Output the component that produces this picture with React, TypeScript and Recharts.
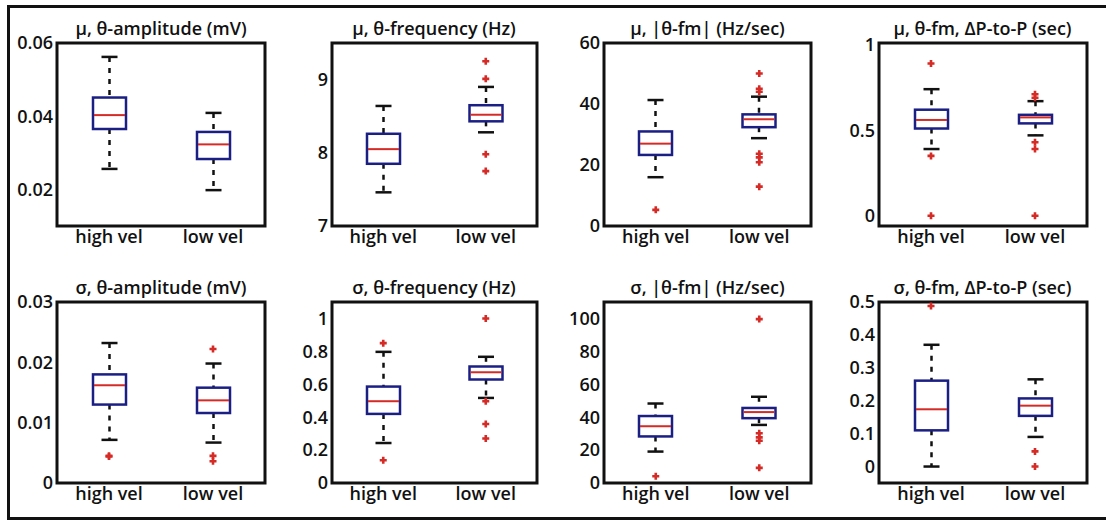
import React from "react"
import { ComposedChart, Bar, Scatter, XAxis, YAxis, ReferenceArea } from "recharts"

const categories = ["high vel", "low vel"]

// each box: [lower whisker, q1, median, q3, upper whisker], high vel first
const muAmpStats = [
  [0.0256, 0.0365, 0.0403, 0.0451, 0.0562],
  [0.0198, 0.0283, 0.0323, 0.0357, 0.0409],
]
const muAmpOutliers: number[][] = [[], []]

const muFreqStats = [
  [7.46, 7.85, 8.05, 8.26, 8.64],
  [8.28, 8.43, 8.52, 8.65, 8.9],
]
const muFreqOutliers = [[], [9.25, 9.01, 7.98, 7.75]]

const muFmStats = [
  [16, 23.3, 27, 31, 41.3],
  [28.8, 32.4, 35, 36.6, 42.4],
]
const muFmOutliers = [[5.3], [50, 45, 44, 23.7, 22.5, 20.9, 12.9]]

const muPtpStats = [
  [0.39, 0.51, 0.56, 0.62, 0.74],
  [0.47, 0.54, 0.575, 0.59, 0.67],
]
const muPtpOutliers = [[0.89, 0.35, 0], [0.71, 0.69, 0.43, 0.39, 0]]

const sdAmpStats = [
  [0.00715, 0.013, 0.0162, 0.018, 0.0232],
  [0.0067, 0.0116, 0.0137, 0.0158, 0.0198],
]
const sdAmpOutliers = [[0.0045, 0.0044], [0.0222, 0.0045, 0.0036]]

const sdFreqStats = [
  [0.243, 0.42, 0.497, 0.586, 0.797],
  [0.517, 0.629, 0.673, 0.708, 0.767],
]
const sdFreqOutliers = [[0.85, 0.138], [1.0, 0.497, 0.359, 0.27]]

const sdFmStats = [
  [19.1, 28.3, 34.5, 40.7, 48.3],
  [35.3, 39.4, 43.1, 45.6, 52.4],
]
const sdFmOutliers = [[4.1], [99.6, 30.2, 27.7, 25.7, 9.2]]

const sdPtpStats = [
  [0, 0.11, 0.174, 0.261, 0.37],
  [0.09, 0.154, 0.185, 0.207, 0.265],
]
const sdPtpOutliers = [[0.488], [0.046, 0]]

const titles = [
  "μ, θ-amplitude (mV)",
  "μ, θ-frequency (Hz)",
  "μ, |θ-fm| (Hz/sec)",
  "μ, θ-fm, ΔP-to-P (sec)",
  "σ, θ-amplitude (mV)",
  "σ, θ-frequency (Hz)",
  "σ, |θ-fm| (Hz/sec)",
  "σ, θ-fm, ΔP-to-P (sec)",
]

const yDomains = [
  [0.01, 0.06],
  [7, 9.5],
  [0, 60],
  [-0.06, 1.01],
  [0, 0.03],
  [0, 1.1],
  [0, 110],
  [-0.05, 0.5],
]

const yTicks = [
  [0.02, 0.04, 0.06],
  [7, 8, 9],
  [0, 20, 40, 60],
  [0, 0.5, 1],
  [0, 0.01, 0.02, 0.03],
  [0, 0.2, 0.4, 0.6, 0.8, 1],
  [0, 20, 40, 60, 80, 100],
  [0, 0.1, 0.2, 0.3, 0.4, 0.5],
]

const allStats = [muAmpStats, muFreqStats, muFmStats, muPtpStats, sdAmpStats, sdFreqStats, sdFmStats, sdPtpStats]
const allOutliers = [
  muAmpOutliers, muFreqOutliers, muFmOutliers, muPtpOutliers,
  sdAmpOutliers, sdFreqOutliers, sdFmOutliers, sdPtpOutliers,
]

// plot-area placement on the page
const colLeft = [57, 331.5, 604, 878.5]
const colWidth = [208, 205, 207, 208]
const rowTop = [43, 301.5]
const rowHeight = [183, 181]

const FONT = "'Open Sans', 'Noto Sans', sans-serif"
const NAVY = "#1b1f84"
const RED = "#d52b26"
const INK = "#111"
const Y_AXIS_W = 50
const X_AXIS_H = 30
const PAD_TOP = 14
const PAD_RIGHT = 4

const tickStyle = { fill: INK, fontSize: 18, fontFamily: FONT, fontWeight: 600 }

const BoxShape = (props: any) => {
  const { x, y, width, height, payload } = props
  const [lo, q1, med, q3, hi] = payload.stats
  const top = Math.min(y, y + height)
  const span = Math.abs(height)
  const toY = (v: number) => top + ((hi - v) / (hi - lo)) * span
  const cx = x + width / 2
  const cap = 8
  return (
    <g>
      <line x1={cx} x2={cx} y1={toY(hi)} y2={toY(q3)} stroke={INK} strokeWidth={2.5} strokeDasharray="5 6" />
      <line x1={cx} x2={cx} y1={toY(q1)} y2={toY(lo)} stroke={INK} strokeWidth={2.5} strokeDasharray="5 6" />
      <line x1={cx - cap} x2={cx + cap} y1={toY(hi)} y2={toY(hi)} stroke={INK} strokeWidth={2.5} />
      <line x1={cx - cap} x2={cx + cap} y1={toY(lo)} y2={toY(lo)} stroke={INK} strokeWidth={2.5} />
      <rect x={x} y={toY(q3)} width={width} height={toY(q1) - toY(q3)} fill="#fff" stroke={NAVY} strokeWidth={2.5} />
      <line x1={x + 1} x2={x + width - 1} y1={toY(med)} y2={toY(med)} stroke={RED} strokeWidth={2} />
    </g>
  )
}

const PlusShape = (props: any) => {
  const { cx, cy } = props
  const r = 3.5
  return (
    <path
      d={`M${cx - r},${cy}H${cx + r}M${cx},${cy - r}V${cy + r}`}
      stroke={RED}
      strokeWidth={2.6}
      fill="none"
    />
  )
}

type PanelProps = { index: number }

const Panel = ({ index }: PanelProps) => {
  const row = Math.floor(index / 4)
  const col = index % 4
  const stats = allStats[index]
  const outliers = allOutliers[index]
  const domain = yDomains[index]
  const plotW = colWidth[col]
  const plotH = rowHeight[row]
  const left = colLeft[col]
  const top = rowTop[row]

  const boxes = categories.map((name, i) => ({
    x: i + 1,
    name,
    range: [stats[i][0], stats[i][4]],
    stats: stats[i],
  }))
  const points = outliers.flatMap((vals, i) => vals.map((v) => ({ x: i + 1, value: v })))

  return (
    <>
      <div
        style={{
          position: "absolute",
          left: left - 20,
          top: top - 25,
          width: plotW + 40,
          textAlign: "center",
          fontFamily: FONT,
          fontWeight: 600,
          fontSize: 18,
          lineHeight: "20px",
          color: INK,
          whiteSpace: "nowrap",
        }}
      >
        {titles[index]}
      </div>
      <div style={{ position: "absolute", left: left - Y_AXIS_W, top: top - PAD_TOP }}>
        <ComposedChart
          width={Y_AXIS_W + plotW + PAD_RIGHT}
          height={PAD_TOP + plotH + X_AXIS_H}
          data={boxes}
          margin={{ top: PAD_TOP, right: PAD_RIGHT, bottom: 0, left: 0 }}
        >
          <XAxis
            dataKey="x"
            type="number"
            domain={[0.5, 2.5]}
            ticks={[1, 2]}
            interval={0}
            allowDataOverflow
            tickFormatter={(v: number) => categories[v - 1]}
            axisLine={false}
            tickLine={false}
            tickSize={2}
            tickMargin={2}
            height={X_AXIS_H}
            tick={tickStyle}
          />
          <YAxis
            type="number"
            domain={domain}
            ticks={yTicks[index]}
            interval={0}
            allowDataOverflow
            tickFormatter={(v: number) => String(v)}
            axisLine={false}
            tickLine={false}
            tickSize={2}
            tickMargin={2}
            width={Y_AXIS_W}
            tick={tickStyle}
          />
          <Bar dataKey="range" barSize={33} shape={BoxShape} isAnimationActive={false} />
          <Scatter data={points} dataKey="value" shape={PlusShape} isAnimationActive={false} />
          <ReferenceArea
            x1={0.5}
            x2={2.5}
            y1={domain[0]}
            y2={domain[1]}
            fill="none"
            stroke={INK}
            strokeWidth={3}
            ifOverflow="visible"
          />
        </ComposedChart>
      </div>
    </>
  )
}

const App = (): React.ReactElement => {
  return (
    <div style={{ position: "absolute", left: 0, top: 0, width: 1106, height: 521, background: "#fff", overflow: "hidden" }}>
      <div
        style={{
          position: "absolute",
          left: 7,
          top: 5,
          width: 1120,
          height: 515,
          border: `3px solid ${INK}`,
          boxSizing: "border-box",
        }}
      />
      {titles.map((_, i) => (
        <Panel key={i} index={i} />
      ))}
    </div>
  )
}

export default App
